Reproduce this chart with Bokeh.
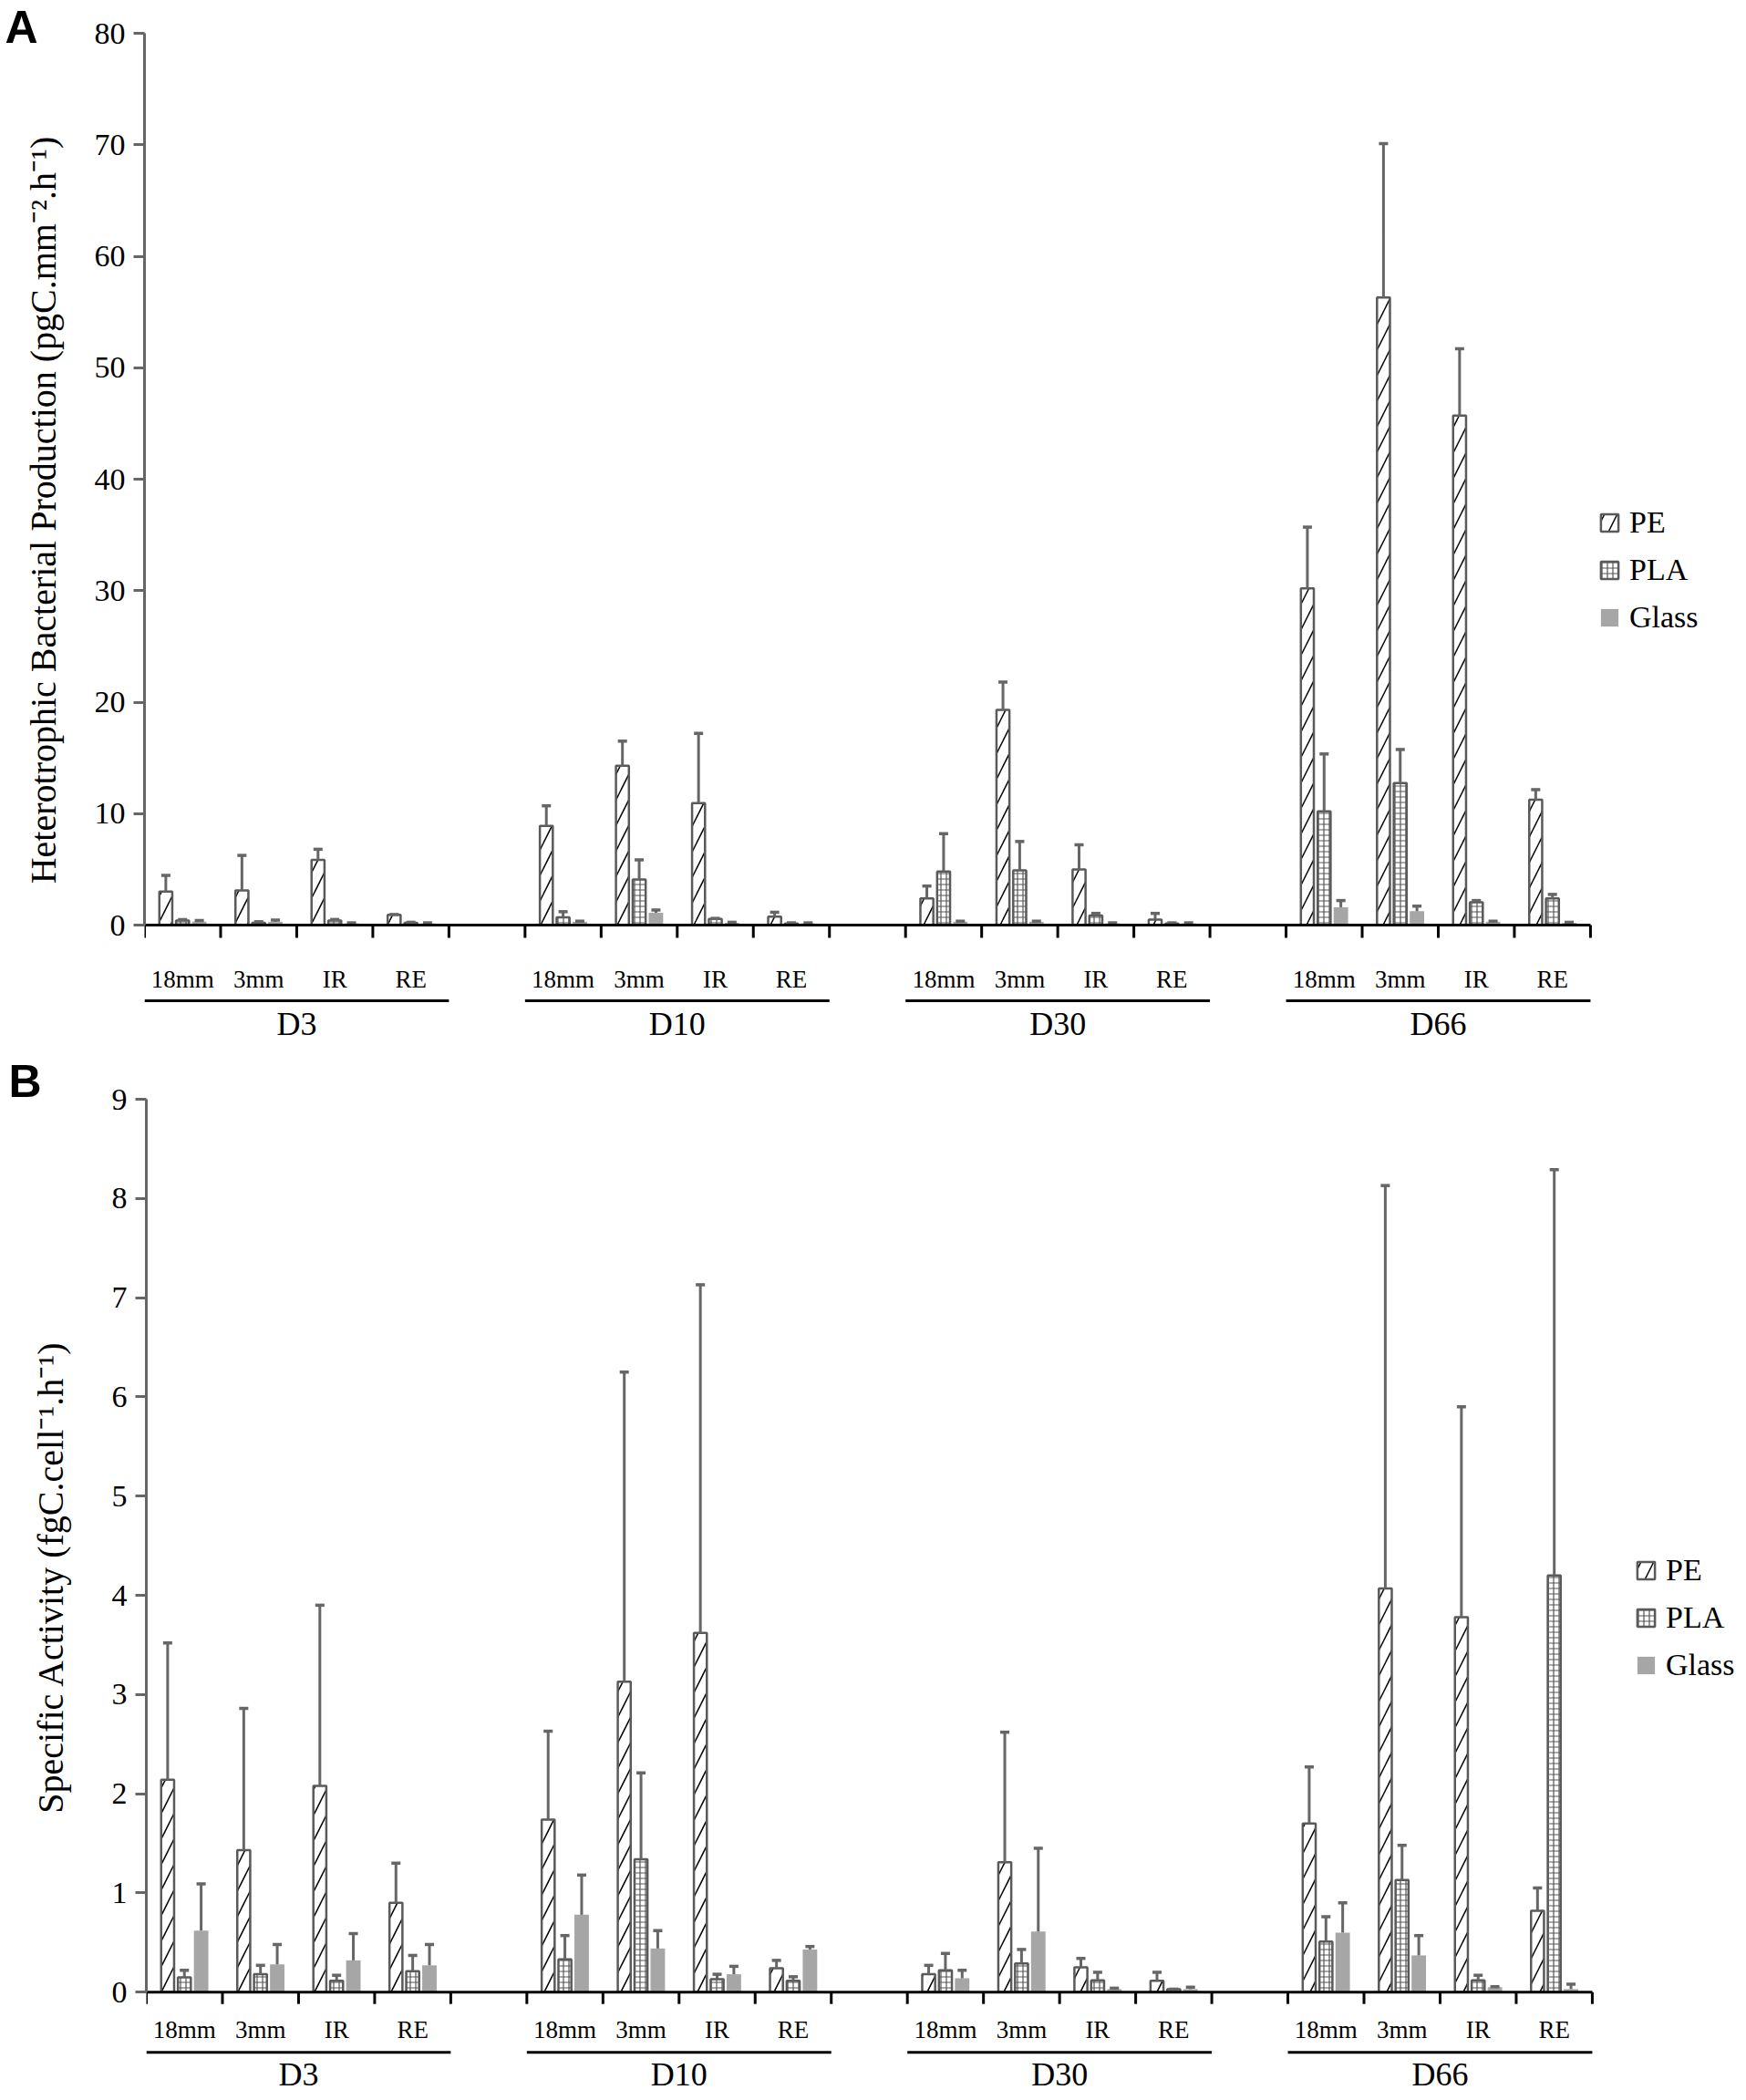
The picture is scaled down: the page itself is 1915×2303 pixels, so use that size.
import math
import numpy as np
from bokeh.plotting import figure
from bokeh.models import Range1d, FixedTicker, Legend, LegendItem
from bokeh.layouts import column, row
from bokeh.embed import file_html
from bokeh.resources import INLINE
from bokeh.core.properties import value

groups = ["D3", "D10", "D30", "D66"]
subcats = ["18mm", "3mm", "IR", "RE"]
series_names = ["PE", "PLA", "Glass"]

# Panel A: Heterotrophic Bacterial Production, order D3(18mm,3mm,IR,RE), D10, D30, D66
a_pe = [3.0, 3.1, 5.85, 0.93, 8.9, 14.3, 10.95, 0.75, 2.4, 19.3, 5.0, 0.5, 30.2, 56.3, 45.7, 11.25]
a_pe_sd = [1.45, 3.15, 0.95, 0.02, 1.8, 2.2, 6.25, 0.4, 1.1, 2.5, 2.2, 0.55, 5.5, 13.8, 6.0, 0.9]
a_pla = [0.4, 0.2, 0.4, 0.2, 0.7, 4.1, 0.55, 0.15, 4.8, 4.9, 0.85, 0.15, 10.2, 12.75, 2.05, 2.4]
a_pla_sd = [0.1, 0.1, 0.1, 0.05, 0.5, 1.75, 0.05, 0.05, 3.4, 2.6, 0.2, 0.05, 5.15, 3.0, 0.15, 0.35]
a_gl = [0.3, 0.3, 0.15, 0.15, 0.3, 1.1, 0.2, 0.15, 0.3, 0.3, 0.15, 0.15, 1.6, 1.25, 0.3, 0.2]
a_gl_sd = [0.1, 0.15, 0.05, 0.05, 0.05, 0.25, 0.05, 0.05, 0.05, 0.05, 0.05, 0.05, 0.6, 0.45, 0.05, 0.05]

# Panel B: Specific Activity
b_pe = [2.14, 1.43, 2.08, 0.9, 1.74, 3.13, 3.62, 0.24, 0.18, 1.31, 0.25, 0.115, 1.70, 4.07, 3.78, 0.82]
b_pe_sd = [1.38, 1.43, 1.82, 0.4, 0.89, 3.12, 3.51, 0.08, 0.09, 1.31, 0.09, 0.085, 0.57, 4.06, 2.12, 0.23]
b_pla = [0.15, 0.18, 0.115, 0.21, 0.33, 1.34, 0.13, 0.115, 0.22, 0.29, 0.12, 0.03, 0.51, 1.13, 0.12, 4.2]
b_pla_sd = [0.07, 0.09, 0.055, 0.16, 0.24, 0.87, 0.05, 0.04, 0.17, 0.14, 0.08, 0.0, 0.25, 0.35, 0.05, 4.09]
b_gl = [0.62, 0.28, 0.32, 0.27, 0.78, 0.44, 0.18, 0.43, 0.14, 0.61, 0.03, 0.03, 0.6, 0.37, 0.05, 0.03]
b_gl_sd = [0.47, 0.2, 0.27, 0.21, 0.4, 0.18, 0.08, 0.03, 0.08, 0.84, 0.01, 0.02, 0.3, 0.2, 0.005, 0.05]

SERIF = "Liberation Serif"
SLOT_PX = 83.47
EDGE = "#5a5a5a"
ERR = "#666666"
WIDTH = 1915
SIDE_W = 98  # width of the strip holding panel letter and y-axis title


def side_strip(letter, letter_xy, title, title_xy, height):
    """Narrow strip left of the axis: panel letter and rotated y-axis title."""
    s = figure(width=SIDE_W, height=height, output_backend="svg", toolbar_location=None,
               x_range=Range1d(0, SIDE_W), y_range=Range1d(height, 0),
               x_axis_type=None, y_axis_type=None, min_border=0, title=None)
    s.outline_line_color = None
    s.grid.visible = False
    s.text(x=[letter_xy[0]], y=[letter_xy[1]], text=[letter], text_font=value("Liberation Sans"),
           text_font_style="bold", text_font_size="50px", text_color="black",
           text_align="left", text_baseline="top")
    s.text(x=[title_xy[0]], y=[title_xy[1]], text=[title], angle=math.pi / 2,
           text_font=value(SERIF), text_font_size="40px", text_color="black",
           text_align="center", text_baseline="middle")
    return s


def make_panel(series, ymax, ystep, ppu, border_left, gap_top, height,
               sub_off, line_off, grp_off, tick_px, ytick_out, legend_loc):
    width = WIDTH - SIDE_W
    # frame spans the full height; the space above the top tick is part of the range
    y_top = ymax + gap_top / ppu
    y_start = y_top - height / ppu
    x_end = (width - border_left) / SLOT_PX
    p = figure(width=width, height=height, output_backend="svg", toolbar_location=None,
               x_range=Range1d(0, x_end), y_range=Range1d(y_start, y_top),
               x_axis_type=None, min_border_left=border_left, min_border_right=0,
               min_border_top=0, min_border_bottom=0, title=None)
    p.outline_line_color = None
    p.ygrid.visible = False
    p.background_fill_color = "white"
    p.border_fill_color = "white"

    ax = p.yaxis[0]
    ax.bounds = (0, ymax)
    ax.ticker = FixedTicker(ticks=list(np.arange(0, ymax + 0.001, ystep)))
    ax.minor_tick_line_color = None
    ax.axis_line_color = "#666666"
    ax.axis_line_width = 3
    ax.major_tick_line_color = "#666666"
    ax.major_tick_line_width = 3
    ax.major_tick_out = ytick_out
    ax.major_tick_in = 0
    ax.major_label_standoff = 9
    ax.major_label_text_font = SERIF
    ax.major_label_text_font_size = "34px"
    ax.major_label_text_color = "black"

    n_sub = len(subcats)
    centers = [g * (n_sub + 1) + s + 0.5 for g in range(len(groups)) for s in range(n_sub)]
    offsets = [-0.22, 0.0, 0.22]
    styles = [
        dict(fill_color="white", line_color=EDGE, line_width=2.5, hatch_pattern="/",
             hatch_scale=28, hatch_weight=1.5, hatch_color="black"),
        dict(fill_color="white", line_color=EDGE, line_width=2.5, hatch_pattern="+",
             hatch_scale=6, hatch_weight=1.2, hatch_color="#555555"),
        dict(fill_color="#a6a6a6", line_color=None),
    ]
    widths = [0.17, 0.17, 0.19]
    renderers = []
    for k, (vals, sds) in enumerate(series):
        xs = [c + offsets[k] for c in centers]
        r = p.vbar(x=xs, top=vals, bottom=0, width=widths[k], **styles[k])
        renderers.append(r)
        tops = [v + s for v, s in zip(vals, sds)]
        p.segment(x0=xs, y0=vals, x1=xs, y1=tops, line_color=ERR, line_width=3)
        p.segment(x0=[x - 0.06 for x in xs], y0=tops, x1=[x + 0.06 for x in xs], y1=tops,
                  line_color=ERR, line_width=3.5)

    n_slots = len(groups) * (n_sub + 1) - 1
    # x axis line and slot ticks
    p.segment(x0=[0], y0=[0], x1=[n_slots], y1=[0], line_color="black", line_width=3)
    tick_x = list(range(0, n_slots + 1))
    p.segment(x0=tick_x, y0=[0] * len(tick_x), x1=tick_x, y1=[-tick_px / ppu] * len(tick_x),
              line_color="black", line_width=3)

    # sub-category labels
    p.text(x=centers, y=[0] * len(centers), text=subcats * len(groups), y_offset=sub_off,
           text_font=value(SERIF), text_font_size="27px", text_align="center",
           text_baseline="middle", text_color="black")
    # group underlines and labels
    g_start = [g * (n_sub + 1) for g in range(len(groups))]
    g_end = [s + n_sub for s in g_start]
    yl = -line_off / ppu
    p.segment(x0=g_start, y0=[yl] * len(groups), x1=g_end, y1=[yl] * len(groups),
              line_color="black", line_width=3)
    p.text(x=[(a + b) / 2 for a, b in zip(g_start, g_end)], y=[0] * len(groups), text=groups,
           y_offset=grp_off, text_font=value(SERIF), text_font_size="36px",
           text_align="center", text_baseline="middle", text_color="black")

    legend = Legend(items=[LegendItem(label=n, renderers=[r]) for n, r in zip(series_names, renderers)],
                    location=legend_loc, orientation="vertical",
                    label_text_font=SERIF, label_text_font_size="34px", label_text_color="black",
                    glyph_width=24, glyph_height=24, label_height=24, spacing=14,
                    label_standoff=10, padding=0, margin=0,
                    border_line_color=None, background_fill_alpha=0)
    p.add_layout(legend)
    return p


HA, HB = 1150, 1153
sA = side_strip("A", (5, 1), "Heterotrophic Bacterial Production (pgC.mm\u207b\u00b2.h\u207b\u00b9)",
                (47, 559), HA)
pA = make_panel([(a_pe, a_pe_sd), (a_pla, a_pla_sd), (a_gl, a_gl_sd)],
                80, 10, 12.225, 158 - SIDE_W, 36, HA, 59, 83, 108, 14, 12, (1595, 454))
sB = side_strip("B", (9, 7), "Specific Activity (fgC.cell\u207b\u00b9.h\u207b\u00b9)",
                (55, 1729 - 1150), HB)
pB = make_panel([(b_pe, b_pe_sd), (b_pla, b_pla_sd), (b_gl, b_gl_sd)],
                9, 1, 108.8, 160 - SIDE_W, 55, HB, 41, 66, 90, 13, 12, (1633, 458))

layout = column(row(sA, pA, spacing=0), row(sB, pB, spacing=0), spacing=0)
open("out.html", "w").write(file_html(layout, INLINE))
